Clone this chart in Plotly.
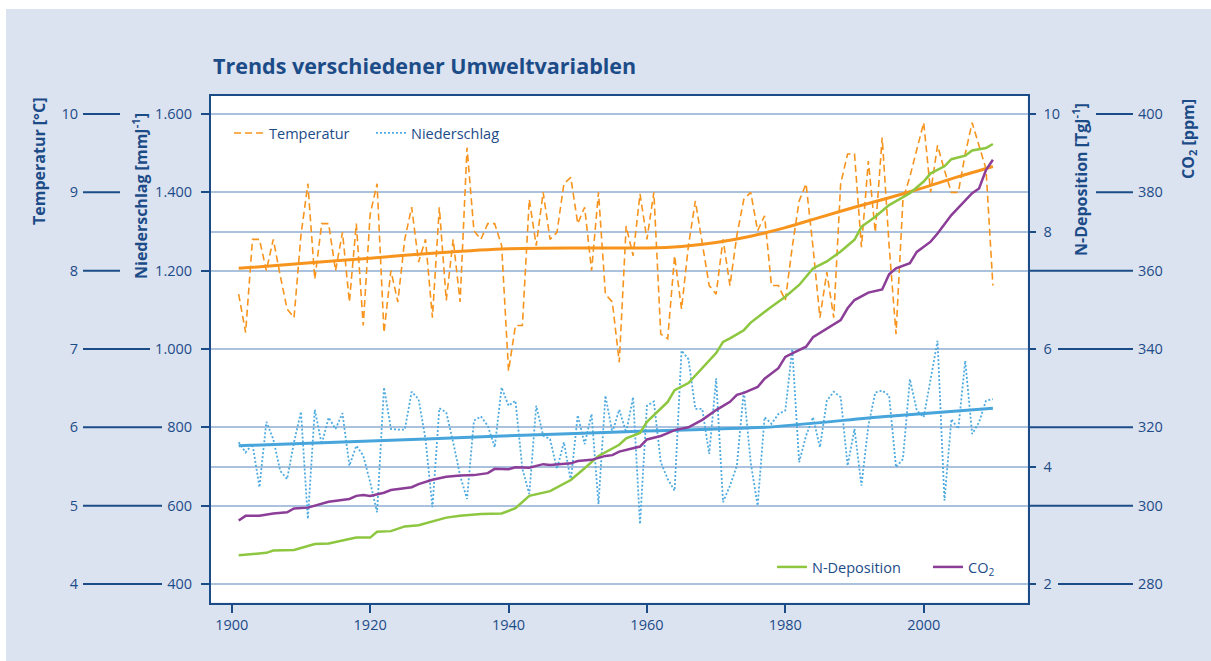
import plotly.graph_objects as go

# ---------------- data ----------------
years = list(range(1901, 2011))

temperature = [
    7.70, 7.21, 8.40, 8.40, 8.00, 8.40, 7.94, 7.51, 7.40, 8.45,   # 1901-1910
    9.11, 7.89, 8.60, 8.60, 8.00, 8.49, 7.60, 8.60, 7.30, 8.72,   # 1911-1920
    9.11, 7.21, 8.00, 7.60, 8.40, 8.81, 8.11, 8.40, 7.40, 8.81,   # 1921-1930
    7.62, 8.40, 7.60, 9.57, 8.51, 8.40, 8.60, 8.60, 8.32, 6.72,   # 1931-1940
    7.30, 7.30, 8.91, 8.32, 9.00, 8.40, 8.49, 9.11, 9.19, 8.60,   # 1941-1950
    8.81, 8.00, 9.00, 7.70, 7.60, 6.83, 8.57, 8.19, 8.98, 8.40,   # 1951-1960
    9.00, 7.19, 7.13, 8.19, 7.51, 8.32, 8.89, 8.32, 7.81, 7.70,   # 1961-1970
    8.40, 7.81, 8.45, 8.91, 9.00, 8.51, 8.70, 7.81, 7.81, 7.62,   # 1971-1980
    8.30, 8.89, 9.11, 8.30, 7.40, 7.98, 7.40, 9.11, 9.49, 9.49,   # 1981-1990
    8.30, 9.40, 8.49, 9.70, 8.32, 7.19, 8.91, 9.20, 9.55, 9.89,   # 1991-2000
    9.00, 9.60, 9.28, 9.00, 9.00, 9.49, 9.89, 9.60, 9.30, 7.81,   # 2001-2010
]

precipitation = [
    762, 736, 757, 647, 814, 770, 689, 668, 762, 840,   # 1901-1910
    566, 845, 757, 825, 796, 836, 702, 753, 728, 660,   # 1911-1920
    583, 902, 796, 794, 794, 891, 872, 770, 596, 849,   # 1921-1930
    838, 762, 677, 617, 817, 828, 804, 749, 902, 855,   # 1931-1940
    868, 694, 630, 855, 779, 770, 694, 762, 664, 831,   # 1941-1950
    757, 834, 604, 881, 787, 845, 787, 877, 553, 855,   # 1951-1960
    866, 711, 668, 638, 996, 974, 847, 847, 732, 925,   # 1961-1970
    609, 651, 702, 894, 710, 600, 826, 809, 834, 843,   # 1971-1980
    1000, 711, 779, 826, 749, 868, 891, 877, 702, 796,  # 1981-1990
    651, 804, 889, 894, 881, 698, 719, 923, 843, 826,   # 1991-2000
    923, 1021, 613, 821, 796, 970, 783, 813, 868, 872,  # 2001-2010
]

temp_trend_years = [1901, 1910, 1920, 1930, 1940, 1950, 1960, 1965, 1970,
                    1975, 1980, 1985, 1990, 1995, 2000, 2005, 2010]
temp_trend = [8.03, 8.09, 8.16, 8.23, 8.28, 8.29, 8.29, 8.31, 8.36,
              8.44, 8.55, 8.68, 8.81, 8.93, 9.06, 9.20, 9.33]

prec_trend_years = [1901, 1920, 1938, 1957, 1977, 1994, 2010]
prec_trend = [753, 765, 777, 789, 800, 827, 849]

ndep_years = [1901, 1905, 1906, 1909, 1912, 1914, 1918, 1920, 1921, 1923,
              1925, 1927, 1931, 1933, 1936, 1939, 1941, 1943, 1946, 1949,
              1951, 1953, 1956, 1957, 1959, 1960, 1963, 1964, 1966, 1968,
              1970, 1971, 1972, 1974, 1975, 1978, 1980, 1982, 1984, 1986,
              1988, 1990, 1991, 1993, 1995, 1998, 2000, 2001, 2003, 2004,
              2006, 2007, 2009, 2010]
ndep = [2.49, 2.53, 2.57, 2.58, 2.68, 2.69, 2.79, 2.79, 2.89, 2.90,
        2.98, 3.00, 3.13, 3.16, 3.19, 3.20, 3.29, 3.50, 3.58, 3.77,
        3.97, 4.18, 4.37, 4.48, 4.57, 4.76, 5.10, 5.30, 5.42, 5.67,
        5.93, 6.12, 6.18, 6.32, 6.45, 6.72, 6.89, 7.09, 7.37, 7.49,
        7.66, 7.86, 8.08, 8.25, 8.45, 8.65, 8.85, 8.99, 9.11, 9.23,
        9.29, 9.38, 9.42, 9.49]

co2_years = [1901, 1902, 1904, 1906, 1908, 1909, 1911, 1913, 1914, 1917,
             1918, 1919, 1920, 1922, 1923, 1926, 1927, 1929, 1931, 1933,
             1935, 1937, 1938, 1940, 1941, 1943, 1945, 1946, 1948, 1949,
             1950, 1952, 1954, 1955, 1956, 1959, 1960, 1962, 1963, 1964,
             1966, 1968, 1970, 1971, 1972, 1973, 1974, 1976, 1977, 1979,
             1980, 1981, 1983, 1984, 1986, 1988, 1989, 1990, 1992, 1994,
             1995, 1996, 1998, 1999, 2001, 2002, 2004, 2006, 2007, 2008,
             2009, 2010]
co2 = [296.2, 297.4, 297.4, 298.0, 298.3, 299.3, 299.5, 300.4, 301.0, 301.7,
       302.5, 302.7, 302.5, 303.3, 304.0, 304.7, 305.5, 306.6, 307.4, 307.7,
       307.8, 308.3, 309.4, 309.3, 309.8, 309.7, 310.6, 310.4, 310.6, 310.8,
       311.4, 311.7, 312.7, 312.9, 313.8, 315.1, 316.9, 317.8, 318.5, 319.3,
       320.0, 321.9, 324.4, 325.4, 326.5, 328.3, 328.8, 330.3, 332.4, 335.1,
       338.0, 338.9, 340.6, 343.0, 345.3, 347.4, 350.4, 352.5, 354.4, 355.2,
       359.1, 360.6, 361.9, 364.8, 367.4, 369.5, 374.2, 378.0, 379.8, 381.0,
       385.7, 388.3]

x_ticks = [1900, 1920, 1940, 1960, 1980, 2000]
prec_ticks = [400, 600, 800, 1000, 1200, 1400, 1600]
prec_labels = ["400", "600", "800", "1.000", "1.200", "1.400", "1.600"]
temp_ticks = [4, 5, 6, 7, 8, 9, 10]
ndep_ticks = [2, 4, 6, 8, 10]
co2_ticks = [280, 300, 320, 340, 360, 380, 400]

# ---------------- layout helpers ----------------
W, H = 1211, 661
PLOT_L, PLOT_R, PLOT_T, PLOT_B = 211, 1027.5, 96, 602.5
TICK_TOP_PX, TICK_BOT_PX = 114, 584  # pixel rows of the outermost ticks


def fx(p):
    return p / W


def fy(p):
    return 1 - p / H


def yrange(v_top, v_bot):
    per_px = (v_top - v_bot) / (TICK_BOT_PX - TICK_TOP_PX)
    return [v_bot - (PLOT_B - TICK_BOT_PX) * per_px,
            v_top + (TICK_TOP_PX - PLOT_T) * per_px]


NAVY = "#1c4c88"
GRID = "#abc2df"
BG = "#dce3f0"
ORANGE = "#f7941d"
SKY = "#4eaadf"
SKY_TREND = "#47a5db"
GREEN = "#8dc63f"
PURPLE = "#8b3d97"
FONT = "Open Sans"
TICK_SIZE = 14.5

fig = go.Figure()

fig.add_trace(go.Scatter(x=years, y=temperature, name="Temperatur", yaxis="y2",
                         mode="lines", line=dict(color=ORANGE, width=1.6, dash="7px,4px"),
                         legend="legend"))
fig.add_trace(go.Scatter(x=years, y=precipitation, name="Niederschlag", yaxis="y",
                         mode="lines", line=dict(color=SKY, width=1.8, dash="2px,2px"),
                         legend="legend"))
fig.add_trace(go.Scatter(x=prec_trend_years, y=prec_trend, yaxis="y", mode="lines",
                         line=dict(color=SKY_TREND, width=3, shape="spline", smoothing=0.6),
                         showlegend=False, hoverinfo="skip"))
fig.add_trace(go.Scatter(x=temp_trend_years, y=temp_trend, yaxis="y2", mode="lines",
                         line=dict(color=ORANGE, width=3, shape="spline", smoothing=0.8),
                         showlegend=False, hoverinfo="skip"))
fig.add_trace(go.Scatter(x=ndep_years, y=ndep, name="N-Deposition", yaxis="y3",
                         mode="lines", line=dict(color=GREEN, width=2.5),
                         legend="legend2"))
fig.add_trace(go.Scatter(x=co2_years, y=co2, name="CO<sub>2</sub>", yaxis="y4",
                         mode="lines", line=dict(color=PURPLE, width=2.5),
                         legend="legend2"))

tickfont = dict(family=FONT, size=TICK_SIZE, color=NAVY)

fig.update_layout(
    width=W, height=H,
    margin=dict(l=0, r=0, t=0, b=0, pad=0),
    paper_bgcolor=BG, plot_bgcolor="white",
    font=dict(family=FONT, size=TICK_SIZE, color=NAVY),
    xaxis=dict(domain=[fx(PLOT_L), fx(PLOT_R)], range=[1897, 2015],
               tickvals=x_ticks, ticks="outside", ticklen=8, tickwidth=2,
               tickcolor=NAVY, showline=True, linecolor=NAVY, linewidth=2,
               mirror=True, showgrid=False, zeroline=False, tickfont=tickfont,
               anchor="y"),
    yaxis=dict(domain=[fy(PLOT_B), fy(PLOT_T)], range=yrange(1600, 400),
               tickvals=prec_ticks, ticktext=prec_labels, ticks="outside",
               ticklen=8, tickwidth=2, tickcolor=NAVY, showline=True,
               linecolor=NAVY, linewidth=2, mirror=True, showgrid=True,
               gridcolor=GRID, gridwidth=1.8, zeroline=False, tickfont=tickfont,
               ticklabelstandoff=6, anchor="x"),
    yaxis2=dict(overlaying="y", anchor="free", position=fx(78), side="left",
                range=yrange(10, 4), tickvals=temp_ticks, ticks="",
                showline=False, showgrid=False, zeroline=False, tickfont=tickfont),
    yaxis3=dict(overlaying="y", anchor="x", side="right", range=yrange(10, 2),
                tickvals=ndep_ticks, ticks="outside", ticklen=7, tickwidth=2,
                tickcolor=NAVY, showline=False, showgrid=True, gridcolor=GRID,
                gridwidth=1.8, zeroline=False, tickfont=tickfont,
                ticklabelstandoff=5),
    yaxis4=dict(overlaying="y", anchor="free", position=fx(1137), side="right",
                range=yrange(400, 280), tickvals=co2_ticks, ticks="",
                showline=False, showgrid=False, zeroline=False, tickfont=tickfont),
    legend=dict(orientation="h", x=fx(229), y=fy(117), xanchor="left", yanchor="top",
                bgcolor="rgba(0,0,0,0)", font=dict(family=FONT, size=TICK_SIZE, color=NAVY),
                entrywidth=97, entrywidthmode="pixels"),
    legend2=dict(orientation="h", x=fx(772), y=fy(551), xanchor="left", yanchor="top",
                 bgcolor="rgba(0,0,0,0)", font=dict(family=FONT, size=TICK_SIZE, color=NAVY),
                 entrywidth=111, entrywidthmode="pixels"),
    showlegend=True,
)

# white strips framing the coloured panel
fig.add_shape(type="rect", xref="paper", yref="paper", x0=0, x1=1, y0=fy(9), y1=1,
              fillcolor="white", line=dict(width=0), layer="below")
fig.add_shape(type="rect", xref="paper", yref="paper", x0=0, x1=fx(6), y0=0, y1=1,
              fillcolor="white", line=dict(width=0), layer="below")

# connector lines in the margins
left_end = {10: 120, 9: 120, 8: 120, 7: 150, 6: 162, 5: 162, 4: 162}
for t in temp_ticks:
    fig.add_shape(type="line", xref="paper", yref="y2", x0=fx(83), x1=fx(left_end[t]),
                  y0=t, y1=t, line=dict(color=NAVY, width=2))
right_start = {400: 1096, 380: 1096, 360: 1028, 340: 1058, 320: 1028, 300: 1028, 280: 1058}
for c in co2_ticks:
    fig.add_shape(type="line", xref="paper", yref="y4", x0=fx(right_start[c]), x1=fx(1133),
                  y0=c, y1=c, line=dict(color=NAVY, width=2))

titlefont = dict(family=FONT, size=16, color=NAVY, weight=700)
common = dict(xref="paper", yref="paper", xanchor="center", yanchor="middle",
              showarrow=False, textangle=-90, font=titlefont)
fig.add_annotation(text="Trends verschiedener Umweltvariablen", xref="paper", yref="paper",
                   x=fx(211), y=fy(66), xanchor="left", yanchor="middle", showarrow=False,
                   font=dict(family=FONT, size=21.5, color=NAVY, weight=700))
fig.add_annotation(text="Temperatur [°C]", x=fx(39), y=fy(162), **common)
fig.add_annotation(text="Niederschlag [mmJ<sup>-1</sup>]", x=fx(140), y=fy(196), **common)
fig.add_annotation(text="N-Deposition [TgJ<sup>-1</sup>]", x=fx(1080), y=fy(180), **common)
fig.add_annotation(text="CO<sub>2</sub> [ppm]", x=fx(1188), y=fy(139), **common)

fig.write_html("out.html", config={"displayModeBar": False},
               post_script="document.body.style.margin='0px';")
